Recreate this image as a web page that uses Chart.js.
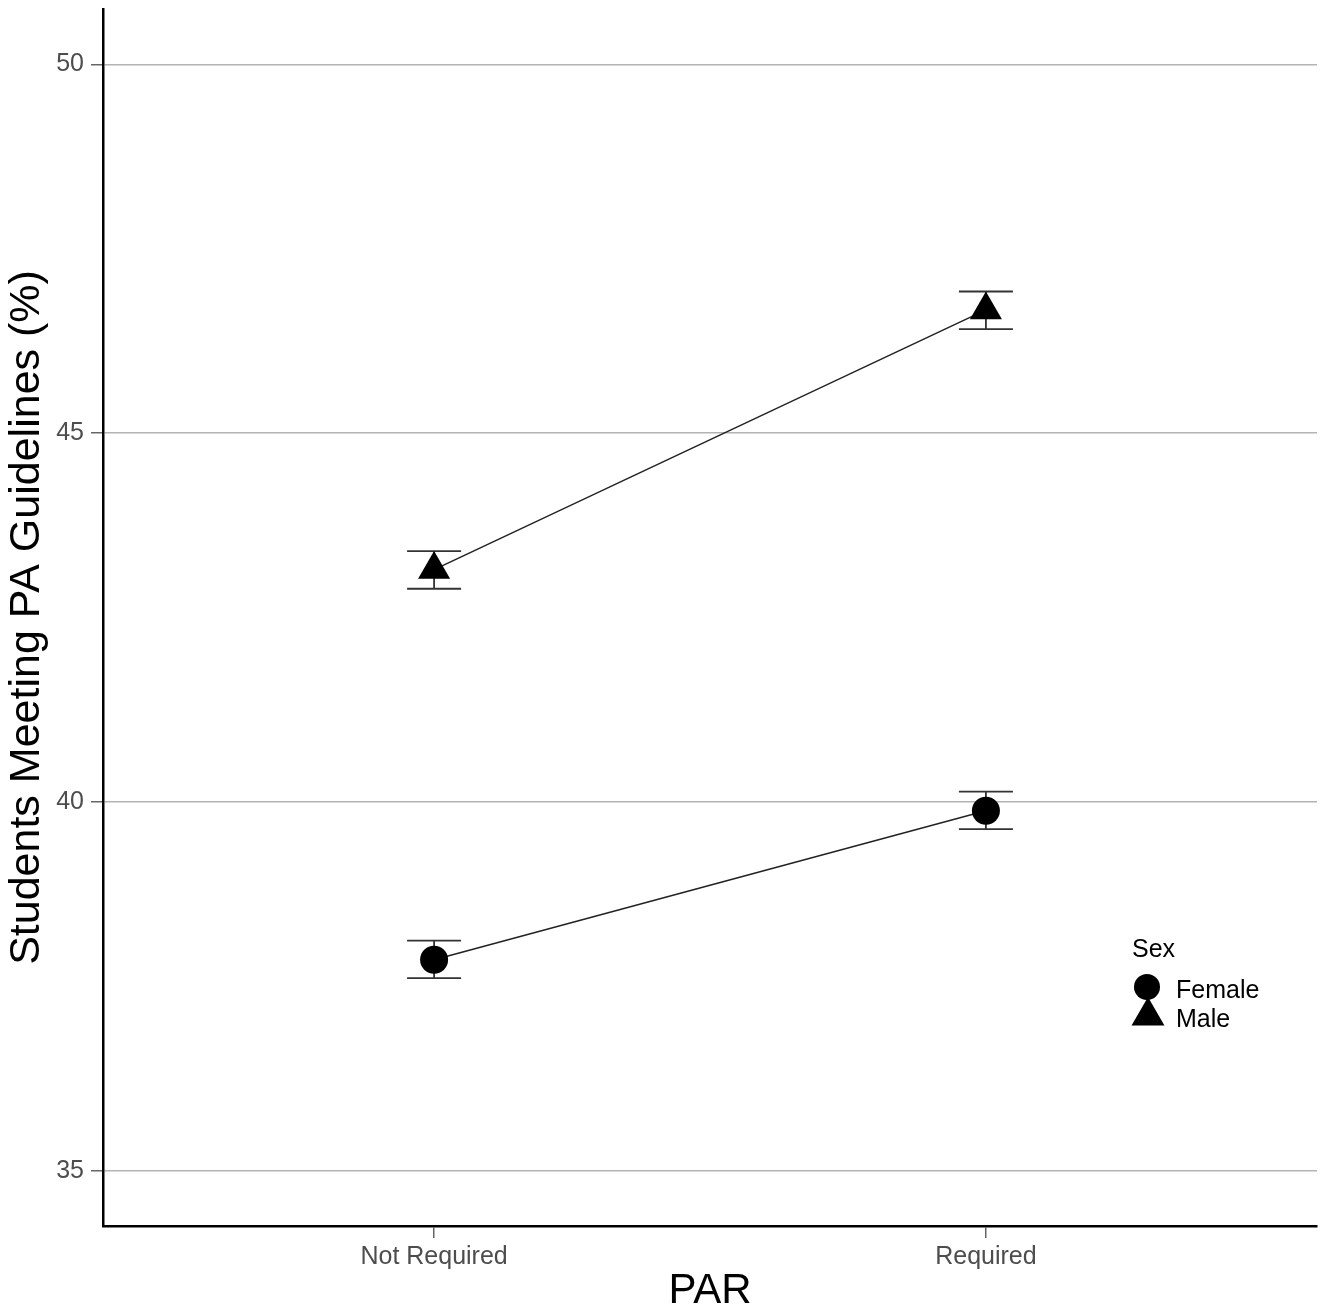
<!DOCTYPE html>
<html>
<head>
<meta charset="utf-8">
<script src="https://cdn.jsdelivr.net/npm/chart.js@4"></script>
<style>
  html, body { margin: 0; padding: 0; background: #fff; }
  #wrap { width: 1327px; height: 1315px; }
</style>
</head>
<body>
<div id="wrap"><canvas id="c" width="1327" height="1315"></canvas></div>
<script>
// ---- data ----
const categories = ['Not Required', 'Required'];
const seriesNames = ['Female', 'Male'];
const femaleMean = [37.86, 39.88];
const femaleLow  = [37.61, 39.63];
const femaleHigh = [38.12, 40.14];
const maleMean   = [43.15, 46.67];
const maleLow    = [42.89, 46.41];
const maleHigh   = [43.40, 46.92];
const yTicks = [35, 40, 45, 50];
const legendTitle = 'Sex';
const xTitle = 'PAR';
const yTitle = 'Students Meeting PA Guidelines (%)';

const FONT = "'Liberation Sans', Arial, sans-serif";

const toPts = arr => arr.map((v, i) => ({ x: i, y: v }));

const errorBars = [
  { low: femaleLow, high: femaleHigh },
  { low: maleLow, high: maleHigh }
];

const zeroPad = s => { s.paddingTop = 0; s.paddingBottom = 0; s.paddingLeft = 0; s.paddingRight = 0; };

const errorBarPlugin = {
  id: 'errorBars',
  beforeDatasetsDraw(chart) {
    const { ctx, scales: { x, y } } = chart;
    ctx.save();
    ctx.strokeStyle = '#333';
    ctx.lineWidth = 1.8;
    errorBars.forEach(eb => {
      eb.low.forEach((lo, i) => {
        const px = x.getPixelForValue(i);
        const yl = y.getPixelForValue(lo);
        const yh = y.getPixelForValue(eb.high[i]);
        const hw = 27;
        ctx.beginPath();
        ctx.moveTo(px, yl); ctx.lineTo(px, yh);
        ctx.moveTo(px - hw, yl); ctx.lineTo(px + hw, yl);
        ctx.moveTo(px - hw, yh); ctx.lineTo(px + hw, yh);
        ctx.stroke();
      });
    });
    ctx.restore();
  }
};

const legendPlugin = {
  id: 'insideLegend',
  afterDraw(chart) {
    const ctx = chart.ctx;
    ctx.save();
    ctx.fillStyle = '#000';
    ctx.font = '25px ' + FONT;
    ctx.textBaseline = 'alphabetic';
    ctx.textAlign = 'left';
    ctx.fillText(legendTitle, 1132, 957);
    const ds = chart.data.datasets;
    ctx.beginPath();
    ctx.arc(1147, 987, 13, 0, Math.PI * 2);
    ctx.fill();
    const tx = 1148, ty = 1016, r = 19;
    ctx.beginPath();
    ctx.moveTo(tx, ty - r);
    ctx.lineTo(tx + r * Math.sin(2 * Math.PI / 3), ty - r * Math.cos(2 * Math.PI / 3));
    ctx.lineTo(tx + r * Math.sin(4 * Math.PI / 3), ty - r * Math.cos(4 * Math.PI / 3));
    ctx.closePath();
    ctx.fill();
    ctx.fillText(ds[0].label, 1176, 998);
    ctx.fillText(ds[1].label, 1176, 1027);
    ctx.restore();
  }
};

new Chart(document.getElementById('c'), {
  type: 'line',
  data: {
    datasets: [
      {
        label: seriesNames[0],
        data: toPts(femaleMean),
        borderColor: '#222',
        borderWidth: 1.5,
        pointStyle: 'circle',
        pointRadius: 14,
        pointHoverRadius: 14,
        pointBackgroundColor: '#000',
        pointBorderColor: '#000',
        pointBorderWidth: 0,
        tension: 0
      },
      {
        label: seriesNames[1],
        data: toPts(maleMean),
        borderColor: '#222',
        borderWidth: 1.5,
        pointStyle: 'triangle',
        pointRadius: 18.5,
        pointHoverRadius: 18.5,
        pointBackgroundColor: '#000',
        pointBorderColor: '#000',
        pointBorderWidth: 0,
        tension: 0
      }
    ]
  },
  options: {
    responsive: false,
    animation: false,
    events: [],
    layout: { autoPadding: false, padding: { left: 0, top: 9, right: 10, bottom: 0 } },
    plugins: {
      legend: { display: false },
      tooltip: { enabled: false }
    },
    scales: {
      x: {
        type: 'linear',
        min: -0.6,
        max: 1.6,
        afterBuildTicks: s => { s.ticks = categories.map((c, i) => ({ value: i })); },
        afterFit: s => { s.height = 89; zeroPad(s); },
        ticks: {
          callback: v => categories[v],
          color: '#4d4d4d',
          font: { family: FONT, size: 25 },
          padding: 4,
          maxRotation: 0,
          autoSkip: false
        },
        grid: {
          drawOnChartArea: false,
          drawTicks: true,
          tickLength: 12,
          tickColor: '#666',
          lineWidth: 1.5
        },
        border: { display: true, color: '#000', width: 2.5 },
        title: {
          display: true,
          text: xTitle,
          color: '#000',
          font: { family: FONT, size: 42, lineHeight: 1 },
          padding: { top: 0, bottom: 3 }
        }
      },
      y: {
        type: 'linear',
        min: 34.25,
        max: 50.75,
        afterBuildTicks: s => { s.ticks = yTicks.map(v => ({ value: v })); },
        afterFit: s => { s.width = 103; zeroPad(s); },
        ticks: {
          color: '#4d4d4d',
          font: { family: FONT, size: 25 },
          padding: 7
        },
        grid: {
          color: '#b3b3b3',
          lineWidth: 1.5,
          drawTicks: true,
          tickLength: 12,
          tickColor: '#666'
        },
        border: { display: true, color: '#000', width: 2.5 },
        title: {
          display: true,
          text: yTitle,
          color: '#000',
          font: { family: FONT, size: 43, lineHeight: 1 },
          padding: { top: 6, bottom: 0 }
        }
      }
    }
  },
  plugins: [errorBarPlugin, legendPlugin]
});
</script>
</body>
</html>
